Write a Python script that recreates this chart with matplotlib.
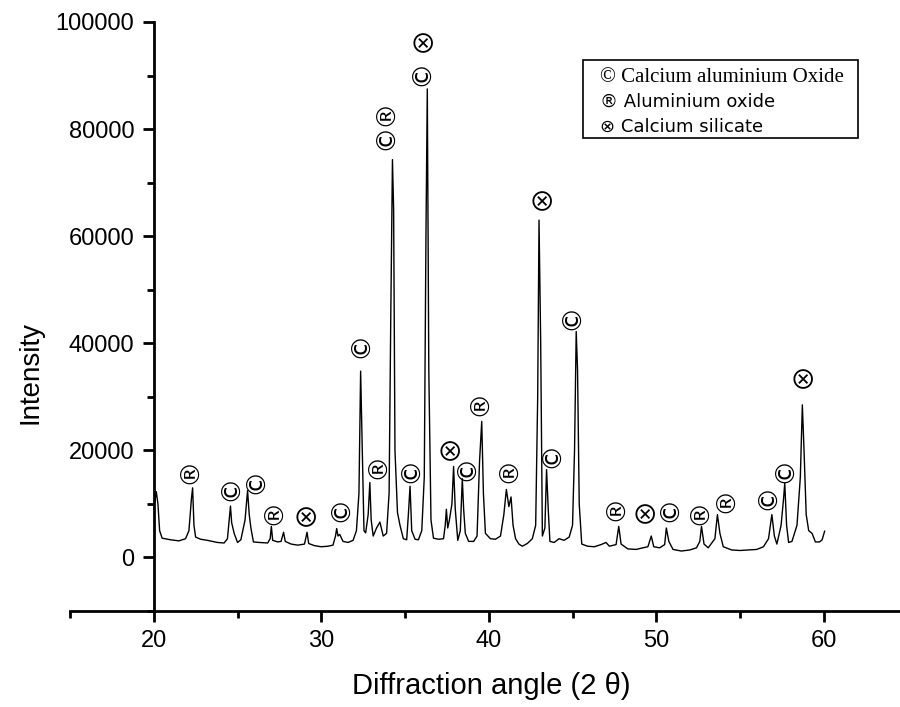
import matplotlib
matplotlib.use("Agg")
import matplotlib.pyplot as plt
from matplotlib.ticker import MultipleLocator
from matplotlib.patches import Rectangle

plt.rcParams['font.family'] = ['Liberation Sans', 'DejaVu Sans']

# XRD trace: 2-theta (deg) and intensity
two_theta = [20.0, 20.15, 20.25, 20.35, 20.5, 21.0, 21.5, 21.9, 22.1, 22.25, 22.32, 22.4, 22.5, 22.8, 23.2,
             23.5, 23.8, 24.2, 24.4, 24.5, 24.58, 24.65, 24.8, 25.0, 25.2, 25.45, 25.6, 25.7, 25.8, 25.95,
             26.3, 26.8, 26.95, 27.02, 27.1, 27.4, 27.6, 27.75, 27.85, 28.2, 28.6, 29.0, 29.15, 29.25, 29.6,
             30.0, 30.4, 30.7, 30.85, 30.92, 31.0, 31.1, 31.3, 31.6, 31.9, 32.1, 32.25, 32.35, 32.45, 32.55,
             32.65, 32.8, 32.9, 32.98, 33.1, 33.3, 33.5, 33.7, 33.9, 34.05, 34.15, 34.25, 34.32, 34.4, 34.55,
             34.7, 34.9, 35.1, 35.2, 35.3, 35.4, 35.6, 35.8, 36.0, 36.15, 36.25, 36.33, 36.42, 36.55, 36.7,
             37.0, 37.3, 37.4, 37.47, 37.55, 37.65, 37.8, 37.9, 38.0, 38.15, 38.3, 38.42, 38.5, 38.6, 38.8,
             39.1, 39.3, 39.45, 39.58, 39.68, 39.8, 40.1, 40.4, 40.7, 40.9, 41.05, 41.2, 41.33, 41.45, 41.6,
             41.8, 42.0, 42.3, 42.6, 42.8, 42.92, 43.0, 43.1, 43.2, 43.35, 43.45, 43.55, 43.65, 43.9, 44.2,
             44.5, 44.8, 45.0, 45.12, 45.22, 45.3, 45.4, 45.55, 45.9, 46.3, 46.7, 47.0, 47.2, 47.6, 47.76,
             47.9, 48.3, 48.8, 49.2, 49.5, 49.7, 49.85, 50.2, 50.5, 50.6, 50.75, 51.0, 51.5, 52.0, 52.4,
             52.6, 52.7, 52.85, 53.1, 53.5, 53.65, 53.8, 54.0, 54.5, 55.0, 55.5, 56.0, 56.4, 56.7, 56.9,
             57.05, 57.2, 57.45, 57.6, 57.67, 57.78, 57.9, 58.1, 58.4, 58.6, 58.72, 58.82, 58.95, 59.1, 59.3,
             59.5, 59.75, 59.9, 60.05]
intensity = [9000, 12300, 10000, 5000, 3600, 3300, 3100, 3500, 5000, 11000, 13000, 6000, 3800, 3400, 3200,
             3000, 2800, 2700, 3500, 7000, 9600, 6500, 4500, 2800, 3300, 7000, 12500, 8000, 5500, 2900,
             2800, 2700, 3500, 5800, 3200, 2900, 3000, 4700, 3000, 2500, 2300, 2500, 4700, 2600, 2200,
             2000, 2100, 2300, 4000, 5400, 4000, 4300, 3000, 2800, 3200, 5000, 12000, 34800, 20000, 5000,
             4600, 8000, 14000, 7000, 4000, 5500, 6600, 4000, 4500, 12000, 45000, 74300, 65000, 20000, 8400,
             6000, 3500, 3300, 8000, 13300, 5000, 3400, 3300, 5000, 15000, 60000, 87500, 35000, 7000, 3600,
             3400, 3500, 6000, 9000, 5500, 7000, 10000, 17000, 9000, 3200, 5000, 14700, 9000, 4500, 3000,
             3000, 4000, 18000, 25400, 12000, 4500, 3500, 3400, 4000, 8000, 12700, 9500, 11300, 6000, 3500,
             2500, 2100, 2600, 3500, 6000, 30000, 63000, 40000, 4000, 5500, 16400, 9000, 3000, 2800, 3500,
             3200, 3800, 6000, 20000, 42200, 35000, 10000, 2500, 2100, 2000, 2400, 2800, 2100, 2400, 5800,
             2500, 1600, 1500, 1800, 2000, 4000, 2000, 1800, 2400, 5500, 3000, 1500, 1200, 1400, 1800,
             3000, 5800, 2500, 1800, 3500, 8000, 4500, 2000, 1400, 1300, 1400, 1500, 2000, 3500, 8000,
             4000, 2500, 6000, 11000, 13900, 6000, 2800, 3000, 6000, 15000, 28500, 20000, 8000, 5000, 4500,
             2900, 2900, 3300, 4900]

# Phase markers: symbol kind, 2-theta, intensity position
marker_kind = ['R', 'C', 'C', 'R', 'X', 'C', 'C', 'R', 'C', 'R', 'C', 'X', 'C',
               'X', 'C', 'R', 'R', 'X', 'C', 'C', 'R', 'X', 'C', 'R', 'R', 'C', 'C', 'X']
marker_x = [22.2, 24.6, 26.1, 27.2, 29.1, 31.2, 32.4, 33.85, 33.9, 33.4, 35.35, 36.05, 36.05,
            37.7, 38.7, 39.5, 41.2, 43.15, 43.8, 45.0, 47.6, 49.3, 50.85, 52.6, 54.15, 56.7, 57.67, 58.75]
marker_y = [16200, 13000, 14400, 8600, 7100, 9000, 39700, 83000, 78600, 17200, 16400, 95600, 90600,
            19300, 16800, 28900, 16400, 66100, 19200, 45000, 9300, 7700, 9000, 8600, 10800, 11400, 16400, 32800]

legend_labels = ['\u00a9 Calcium aluminium Oxide', '\u00ae Aluminium oxide', '\u2297 Calcium silicate']

symbols = {'C': '\u00a9', 'R': '\u00ae', 'X': '\u2297'}

fig = plt.figure(figsize=(9, 7.07), dpi=100)
ax = fig.add_axes([70 / 900, 96 / 707, 830 / 900, 589 / 707])

ax.plot(two_theta, intensity, color='black', lw=1.0)

for k, mx, my in zip(marker_kind, marker_x, marker_y):
    if k == 'X':
        ax.text(mx, my, symbols[k], ha='center', va='center', fontsize=19,
                family=['Noto Sans CJK SC', 'DejaVu Sans'])
    else:
        ax.text(mx, my, symbols[k], ha='center', va='center', fontsize=19,
                family=['DejaVu Sans'], rotation=90, rotation_mode='anchor')

ax.set_xlim(15, 64.55)
ax.set_ylim(-10000, 100000)

ax.spines['top'].set_visible(False)
ax.spines['right'].set_visible(False)
ax.spines['left'].set_position(('data', 20))
ax.spines['left'].set_bounds(-10000, 100000)
for s in ('left', 'bottom'):
    ax.spines[s].set_linewidth(2)

ax.xaxis.set_major_locator(MultipleLocator(10))
ax.xaxis.set_minor_locator(MultipleLocator(5))
ax.yaxis.set_minor_locator(MultipleLocator(10000))
ax.set_yticks([0, 20000, 40000, 60000, 80000, 100000])
ax.set_yticklabels(['0', '20000', '40000', '60000', '80000', '100000'])
ax.set_xticks([20, 30, 40, 50, 60])
ax.tick_params(which='major', direction='out', length=8, width=2, labelsize=17, pad=6)
ax.tick_params(which='minor', direction='out', length=5, width=2)

fig.text(30 / 900, 1 - 372 / 707, 'Intensity', rotation=90, ha='center', va='center', fontsize=20)
fig.text(491 / 900, 1 - 686 / 707, 'Diffraction angle (2 \u03b8)', ha='center', va='center', fontsize=21)

# legend box
fig.patches.append(Rectangle((583 / 900, 1 - 138 / 707), 275 / 900, 78 / 707, transform=fig.transFigure,
                             fill=False, edgecolor='black', lw=1.2))
fig.text(600 / 900, 1 - 77 / 707, legend_labels[0], ha='left', va='center', fontsize=15,
         family=['Liberation Serif', 'DejaVu Serif'])
fig.text(600 / 900, 1 - 102 / 707, legend_labels[1], ha='left', va='center', fontsize=13,
         family=['DejaVu Sans'])
fig.text(600 / 900, 1 - 127 / 707, legend_labels[2], ha='left', va='center', fontsize=13,
         family=['DejaVu Sans'])

fig.savefig('out.png', dpi=100)
